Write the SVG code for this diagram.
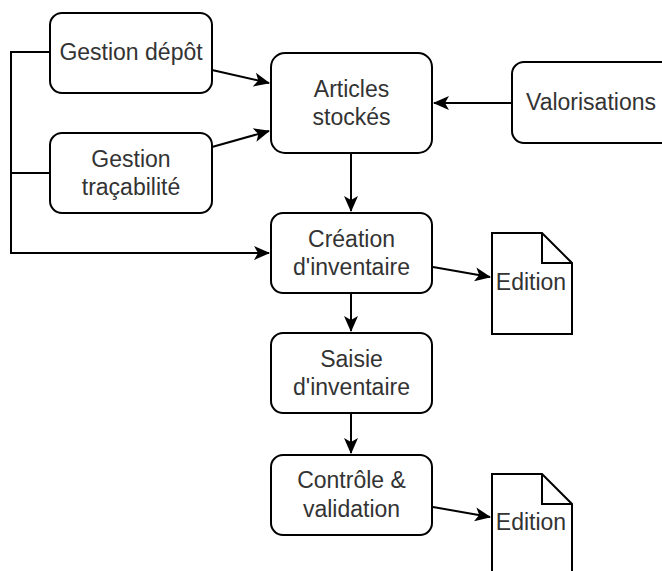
<svg xmlns="http://www.w3.org/2000/svg" width="662" height="571" viewBox="0 0 662 571">
<style>
.box{fill:#fff;stroke:#000;stroke-width:2}
.doc{fill:#fff;stroke:#000;stroke-width:2;stroke-linejoin:miter}
.lbl{font-family:"Liberation Sans",Arial,sans-serif;font-size:23px;fill:#333;text-anchor:middle}
.edge{fill:none;stroke:#000;stroke-width:2}
</style>
<defs>
<marker id="arr" markerUnits="userSpaceOnUse" viewBox="0 0 16 16" markerWidth="16" markerHeight="16" refX="15" refY="8" orient="auto">
<path d="M0,1 L16,8 L0,15 L4,8 Z" fill="#000"/>
</marker>
</defs>
<rect width="662" height="571" fill="#fff"/>
<g id="connectors">
<path class="edge" d="M50,52 H11 V253 H269" marker-end="url(#arr)"/>
<path class="edge" d="M50,173 H11"/>
<path class="edge" d="M212,70 L269,83" marker-end="url(#arr)"/>
<path class="edge" d="M212,147 L269,131" marker-end="url(#arr)"/>
<path class="edge" d="M512,103 L434,103" marker-end="url(#arr)"/>
<path class="edge" d="M351,153 V211" marker-end="url(#arr)"/>
<path class="edge" d="M351,293 V331" marker-end="url(#arr)"/>
<path class="edge" d="M351,413 V453" marker-end="url(#arr)"/>
<path class="edge" d="M433,267 L490,277" marker-end="url(#arr)"/>
<path class="edge" d="M433,507 L490,517" marker-end="url(#arr)"/>
</g>
<g id="gestion-depot">
<rect class="box" x="50" y="13" width="162" height="80" rx="12"/>
<text class="lbl" x="131" y="60">Gestion dépôt</text>
</g>
<g id="gestion-tracabilite">
<rect class="box" x="50" y="133" width="162" height="80" rx="12"/>
<text class="lbl" x="131" y="167">Gestion</text>
<text class="lbl" x="131" y="195">traçabilité</text>
</g>
<g id="articles-stockes">
<rect class="box" x="271" y="53" width="161" height="100" rx="14"/>
<text class="lbl" x="351.5" y="97">Articles</text>
<text class="lbl" x="351.5" y="125">stockés</text>
</g>
<g id="valorisations">
<rect class="box" x="512" y="62" width="161" height="81" rx="12"/>
<text class="lbl" x="591" y="110">Valorisations</text>
</g>
<g id="creation-inventaire">
<rect class="box" x="271" y="213" width="161" height="80" rx="12"/>
<text class="lbl" x="351.5" y="247">Création</text>
<text class="lbl" x="351.5" y="275">d'inventaire</text>
</g>
<g id="saisie-inventaire">
<rect class="box" x="271" y="333" width="161" height="80" rx="12"/>
<text class="lbl" x="351.5" y="367">Saisie</text>
<text class="lbl" x="351.5" y="395">d'inventaire</text>
</g>
<g id="controle-validation">
<rect class="box" x="271" y="455" width="161" height="80" rx="12"/>
<text class="lbl" x="351.5" y="488">Contrôle &amp;</text>
<text class="lbl" x="351.5" y="517">validation</text>
</g>
<g id="edition-1">
<path class="doc" d="M492,233 H542 L572,263 V334 H492 Z M542,233 V263 H572"/>
<text class="lbl" x="531" y="290">Edition</text>
</g>
<g id="edition-2">
<path class="doc" d="M492,474 H542 L572,504 V590 H492 Z M542,474 V504 H572"/>
<text class="lbl" x="531" y="530">Edition</text>
</g>
</svg>
